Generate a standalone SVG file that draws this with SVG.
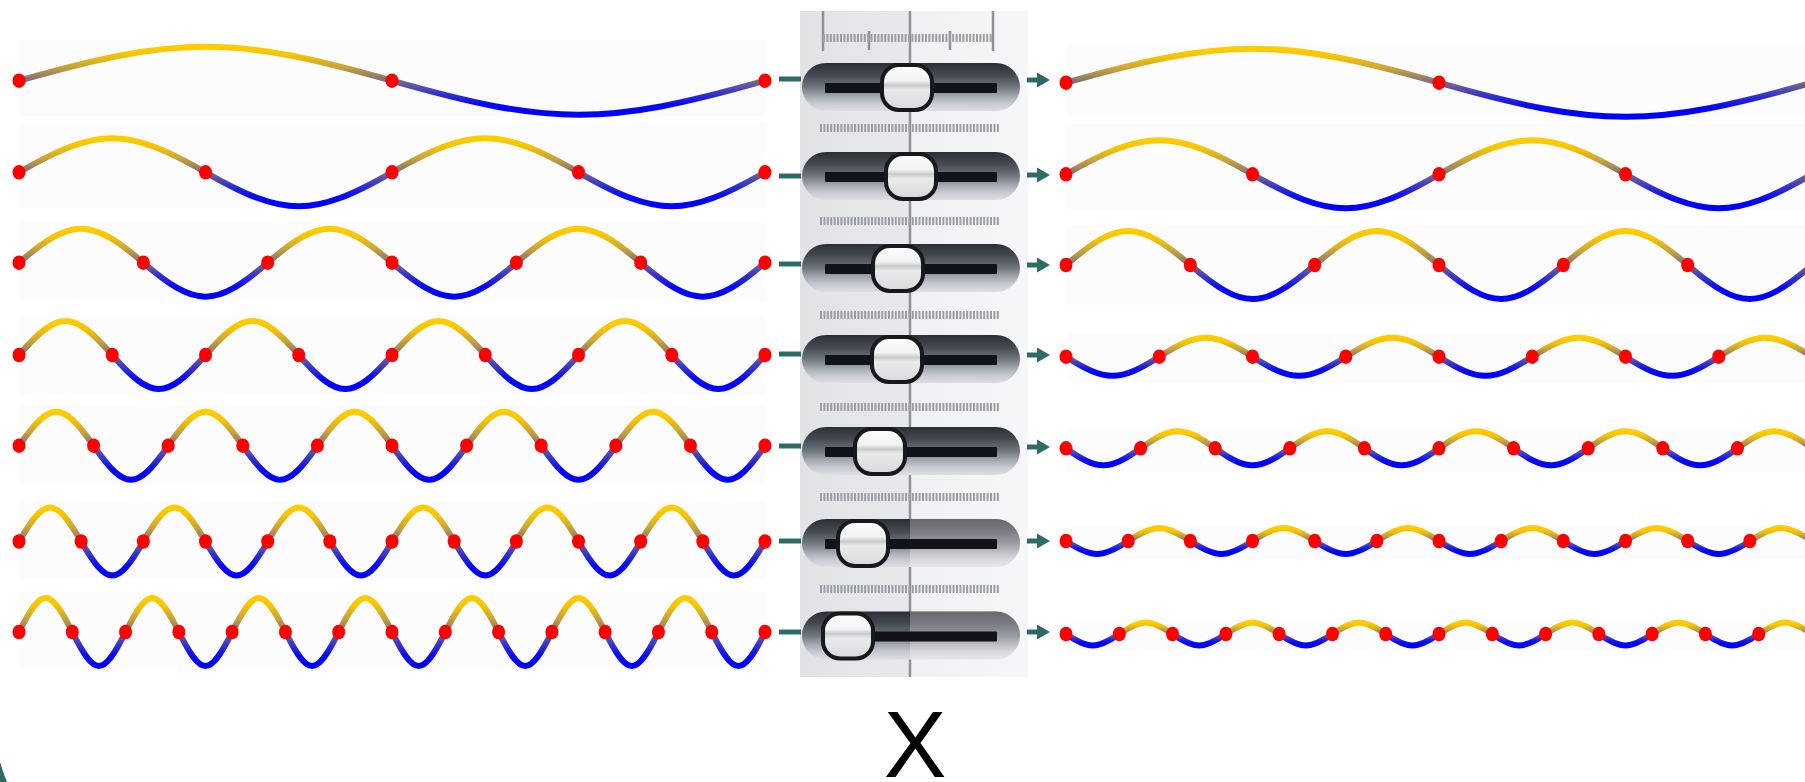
<svg xmlns="http://www.w3.org/2000/svg" width="1805" height="782" viewBox="0 0 1805 782">
<style>
.w{fill:none;stroke:url(#wg);stroke-width:6;stroke-linecap:round;stroke-linejoin:round}
.dot{fill:#ff0000}
.bg{fill:#fcfcfc}
.cl{stroke:#2e6a66;stroke-width:5}
.ca{stroke:#2e6a66;stroke-width:5;marker-end:url(#ah)}
.trk{fill:url(#tg)}
.lite{fill:#ffffff;opacity:0.28}
.grv{fill:#101317}
.knob{fill:url(#kg);stroke:#16191d;stroke-width:4}
.strip{stroke:#9a9fa6;stroke-width:8;stroke-dasharray:2 1.4}
.rl{stroke:#8e939a;stroke-width:2.5}
</style>
<defs>
<linearGradient id="wg" x1="0" y1="0" x2="0" y2="1">
<stop offset="0" stop-color="#ffcc00"/>
<stop offset="0.12" stop-color="#f6c400"/>
<stop offset="0.3" stop-color="#c8a238"/>
<stop offset="0.45" stop-color="#8e7a6a"/>
<stop offset="0.5" stop-color="#7a6a80"/>
<stop offset="0.56" stop-color="#6258a0"/>
<stop offset="0.7" stop-color="#3030d0"/>
<stop offset="0.85" stop-color="#0808f8"/>
<stop offset="1" stop-color="#0000ff"/>
</linearGradient>
<linearGradient id="sbg" x1="0" y1="0" x2="1" y2="0">
<stop offset="0" stop-color="#e0e2e6"/>
<stop offset="0.48" stop-color="#e7e9ec"/>
<stop offset="0.485" stop-color="#eff0f2"/>
<stop offset="1" stop-color="#f6f7f8"/>
</linearGradient>
<linearGradient id="tg" x1="0" y1="0" x2="0" y2="1">
<stop offset="0" stop-color="#2b2f36"/>
<stop offset="0.25" stop-color="#454a51"/>
<stop offset="0.5" stop-color="#70767e"/>
<stop offset="0.7" stop-color="#a6abb2"/>
<stop offset="0.85" stop-color="#c8ccd2"/>
<stop offset="1" stop-color="#dcdfe3"/>
</linearGradient>
<linearGradient id="kg" x1="0" y1="0" x2="0" y2="1">
<stop offset="0" stop-color="#ffffff"/>
<stop offset="0.35" stop-color="#f2f2f3"/>
<stop offset="0.45" stop-color="#c5c9ce"/>
<stop offset="0.55" stop-color="#e9eaec"/>
<stop offset="1" stop-color="#d6d9dd"/>
</linearGradient>
<marker id="ah" markerUnits="userSpaceOnUse" markerWidth="14" markerHeight="16" refX="1" refY="8" orient="auto">
<path d="M0,0.5 L13,8 L0,15.5 Z" fill="#2e6a66"/>
</marker>
<path id="w1" class="w" d="M0,0c158.3,-45.33 214.7,-45.33 373,0s214.7,45.33 373,0"/>
<path id="w2" class="w" d="M0,0c79.15,-45.33 107.35,-45.33 186.5,0s107.35,45.33 186.5,0s107.35,-45.33 186.5,0s107.35,45.33 186.5,0"/>
<path id="w3" class="w" d="M0,0c52.77,-45.33 71.56,-45.33 124.33,0s71.56,45.33 124.33,0s71.56,-45.33 124.33,0s71.56,45.33 124.33,0s71.56,-45.33 124.33,0s71.56,45.33 124.33,0"/>
<path id="w4" class="w" d="M0,0c39.58,-45.33 53.67,-45.33 93.25,0s53.67,45.33 93.25,0s53.67,-45.33 93.25,0s53.67,45.33 93.25,0s53.67,-45.33 93.25,0s53.67,45.33 93.25,0s53.67,-45.33 93.25,0s53.67,45.33 93.25,0"/>
<path id="w5" class="w" d="M0,0c31.66,-45.33 42.94,-45.33 74.6,0s42.94,45.33 74.6,0s42.94,-45.33 74.6,0s42.94,45.33 74.6,0s42.94,-45.33 74.6,0s42.94,45.33 74.6,0s42.94,-45.33 74.6,0s42.94,45.33 74.6,0s42.94,-45.33 74.6,0s42.94,45.33 74.6,0"/>
<path id="w6" class="w" d="M0,0c26.38,-45.33 35.79,-45.33 62.17,0s35.79,45.33 62.17,0s35.79,-45.33 62.17,0s35.79,45.33 62.17,0s35.79,-45.33 62.17,0s35.79,45.33 62.17,0s35.79,-45.33 62.17,0s35.79,45.33 62.17,0s35.79,-45.33 62.17,0s35.79,45.33 62.17,0s35.79,-45.33 62.17,0s35.79,45.33 62.17,0"/>
<path id="w7" class="w" d="M0,0c22.62,-45.33 30.67,-45.33 53.29,0s30.67,45.33 53.29,0s30.67,-45.33 53.29,0s30.67,45.33 53.29,0s30.67,-45.33 53.29,0s30.67,45.33 53.29,0s30.67,-45.33 53.29,0s30.67,45.33 53.29,0s30.67,-45.33 53.29,0s30.67,45.33 53.29,0s30.67,-45.33 53.29,0s30.67,45.33 53.29,0s30.67,-45.33 53.29,0s30.67,45.33 53.29,0"/>
<path id="r4" class="w" d="M0,0c39.58,25.33 53.67,25.33 93.25,0s53.67,-25.33 93.25,0s53.67,25.33 93.25,0s53.67,-25.33 93.25,0s53.67,25.33 93.25,0s53.67,-25.33 93.25,0s53.67,25.33 93.25,0s53.67,-25.33 93.25,0"/>
<path id="r5" class="w" d="M0,0c31.66,22.67 42.94,22.67 74.6,0s42.94,-22.67 74.6,0s42.94,22.67 74.6,0s42.94,-22.67 74.6,0s42.94,22.67 74.6,0s42.94,-22.67 74.6,0s42.94,22.67 74.6,0s42.94,-22.67 74.6,0s42.94,22.67 74.6,0s42.94,-22.67 74.6,0"/>
<path id="r6" class="w" d="M0,0c26.38,17.33 35.79,17.33 62.17,0s35.79,-17.33 62.17,0s35.79,17.33 62.17,0s35.79,-17.33 62.17,0s35.79,17.33 62.17,0s35.79,-17.33 62.17,0s35.79,17.33 62.17,0s35.79,-17.33 62.17,0s35.79,17.33 62.17,0s35.79,-17.33 62.17,0s35.79,17.33 62.17,0s35.79,-17.33 62.17,0"/>
<path id="r7" class="w" d="M0,0c22.62,15.33 30.67,15.33 53.29,0s30.67,-15.33 53.29,0s30.67,15.33 53.29,0s30.67,-15.33 53.29,0s30.67,15.33 53.29,0s30.67,-15.33 53.29,0s30.67,15.33 53.29,0s30.67,-15.33 53.29,0s30.67,15.33 53.29,0s30.67,-15.33 53.29,0s30.67,15.33 53.29,0s30.67,-15.33 53.29,0s30.67,15.33 53.29,0s30.67,-15.33 53.29,0"/>
<g id="d1" class="dot"><ellipse cx="0" cy="0" rx="6.5" ry="7.3"/><ellipse cx="373" cy="0" rx="6.5" ry="7.3"/><ellipse cx="746" cy="0" rx="6.5" ry="7.3"/></g>
<g id="d2" class="dot"><ellipse cx="0" cy="0" rx="6.5" ry="7.3"/><ellipse cx="186.5" cy="0" rx="6.5" ry="7.3"/><ellipse cx="373" cy="0" rx="6.5" ry="7.3"/><ellipse cx="559.5" cy="0" rx="6.5" ry="7.3"/><ellipse cx="746" cy="0" rx="6.5" ry="7.3"/></g>
<g id="d3" class="dot"><ellipse cx="0" cy="0" rx="6.5" ry="7.3"/><ellipse cx="124.33" cy="0" rx="6.5" ry="7.3"/><ellipse cx="248.67" cy="0" rx="6.5" ry="7.3"/><ellipse cx="373" cy="0" rx="6.5" ry="7.3"/><ellipse cx="497.33" cy="0" rx="6.5" ry="7.3"/><ellipse cx="621.67" cy="0" rx="6.5" ry="7.3"/><ellipse cx="746" cy="0" rx="6.5" ry="7.3"/></g>
<g id="d4" class="dot"><ellipse cx="0" cy="0" rx="6.5" ry="7.3"/><ellipse cx="93.25" cy="0" rx="6.5" ry="7.3"/><ellipse cx="186.5" cy="0" rx="6.5" ry="7.3"/><ellipse cx="279.75" cy="0" rx="6.5" ry="7.3"/><ellipse cx="373" cy="0" rx="6.5" ry="7.3"/><ellipse cx="466.25" cy="0" rx="6.5" ry="7.3"/><ellipse cx="559.5" cy="0" rx="6.5" ry="7.3"/><ellipse cx="652.75" cy="0" rx="6.5" ry="7.3"/><ellipse cx="746" cy="0" rx="6.5" ry="7.3"/></g>
<g id="d5" class="dot"><ellipse cx="0" cy="0" rx="6.5" ry="7.3"/><ellipse cx="74.6" cy="0" rx="6.5" ry="7.3"/><ellipse cx="149.2" cy="0" rx="6.5" ry="7.3"/><ellipse cx="223.8" cy="0" rx="6.5" ry="7.3"/><ellipse cx="298.4" cy="0" rx="6.5" ry="7.3"/><ellipse cx="373" cy="0" rx="6.5" ry="7.3"/><ellipse cx="447.6" cy="0" rx="6.5" ry="7.3"/><ellipse cx="522.2" cy="0" rx="6.5" ry="7.3"/><ellipse cx="596.8" cy="0" rx="6.5" ry="7.3"/><ellipse cx="671.4" cy="0" rx="6.5" ry="7.3"/><ellipse cx="746" cy="0" rx="6.5" ry="7.3"/></g>
<g id="d6" class="dot"><ellipse cx="0" cy="0" rx="6.5" ry="7.3"/><ellipse cx="62.17" cy="0" rx="6.5" ry="7.3"/><ellipse cx="124.33" cy="0" rx="6.5" ry="7.3"/><ellipse cx="186.5" cy="0" rx="6.5" ry="7.3"/><ellipse cx="248.67" cy="0" rx="6.5" ry="7.3"/><ellipse cx="310.83" cy="0" rx="6.5" ry="7.3"/><ellipse cx="373" cy="0" rx="6.5" ry="7.3"/><ellipse cx="435.17" cy="0" rx="6.5" ry="7.3"/><ellipse cx="497.33" cy="0" rx="6.5" ry="7.3"/><ellipse cx="559.5" cy="0" rx="6.5" ry="7.3"/><ellipse cx="621.67" cy="0" rx="6.5" ry="7.3"/><ellipse cx="683.83" cy="0" rx="6.5" ry="7.3"/><ellipse cx="746" cy="0" rx="6.5" ry="7.3"/></g>
<g id="d7" class="dot"><ellipse cx="0" cy="0" rx="6.5" ry="7.3"/><ellipse cx="53.29" cy="0" rx="6.5" ry="7.3"/><ellipse cx="106.57" cy="0" rx="6.5" ry="7.3"/><ellipse cx="159.86" cy="0" rx="6.5" ry="7.3"/><ellipse cx="213.14" cy="0" rx="6.5" ry="7.3"/><ellipse cx="266.43" cy="0" rx="6.5" ry="7.3"/><ellipse cx="319.71" cy="0" rx="6.5" ry="7.3"/><ellipse cx="373" cy="0" rx="6.5" ry="7.3"/><ellipse cx="426.29" cy="0" rx="6.5" ry="7.3"/><ellipse cx="479.57" cy="0" rx="6.5" ry="7.3"/><ellipse cx="532.86" cy="0" rx="6.5" ry="7.3"/><ellipse cx="586.14" cy="0" rx="6.5" ry="7.3"/><ellipse cx="639.43" cy="0" rx="6.5" ry="7.3"/><ellipse cx="692.71" cy="0" rx="6.5" ry="7.3"/><ellipse cx="746" cy="0" rx="6.5" ry="7.3"/></g>
</defs>
<rect width="1805" height="782" fill="#ffffff"/>

<!-- left waves -->
<g id="wave-left-1"><rect class="bg" x="20" y="40" width="746" height="76"/><use href="#w1" x="19" y="80.7"/><use href="#d1" x="19" y="80.7"/></g>
<g id="wave-left-2"><rect class="bg" x="20" y="122" width="746" height="86"/><use href="#w2" x="19" y="172.3"/><use href="#d2" x="19" y="172.3"/></g>
<g id="wave-left-3"><rect class="bg" x="20" y="222" width="746" height="80"/><use href="#w3" x="19" y="262.7"/><use href="#d3" x="19" y="262.7"/></g>
<g id="wave-left-4"><rect class="bg" x="20" y="315" width="746" height="80"/><use href="#w4" x="19" y="355"/><use href="#d4" x="19" y="355"/></g>
<g id="wave-left-5"><rect class="bg" x="20" y="405" width="746" height="80"/><use href="#w5" x="19" y="445.7"/><use href="#d5" x="19" y="445.7"/></g>
<g id="wave-left-6"><rect class="bg" x="20" y="501" width="746" height="78"/><use href="#w6" x="19" y="541.5"/><use href="#d6" x="19" y="541.5"/></g>
<g id="wave-left-7"><rect class="bg" x="20" y="592" width="746" height="78"/><use href="#w7" x="19" y="632"/><use href="#d7" x="19" y="632"/></g>

<!-- slider column -->
<g id="slider-panel">
<rect x="800" y="11" width="228" height="666" fill="url(#sbg)"/>
<line class="rl" x1="910" y1="11" x2="910" y2="677"/>
<line class="rl" x1="823" y1="11" x2="823" y2="51"/>
<line class="rl" x1="993" y1="11" x2="993" y2="51"/>
<line class="rl" x1="869" y1="31" x2="869" y2="50" stroke-width="2"/>
<line class="rl" x1="950" y1="31" x2="950" y2="50" stroke-width="2"/>
<line class="strip" x1="823" y1="38" x2="993" y2="38" stroke-width="7"/>
<line class="strip" x1="820" y1="128" x2="999" y2="128"/>
<line class="strip" x1="820" y1="221" x2="999" y2="221"/>
<line class="strip" x1="820" y1="315" x2="999" y2="315"/>
<line class="strip" x1="820" y1="407" x2="999" y2="407"/>
<line class="strip" x1="820" y1="497" x2="999" y2="497"/>
<line class="strip" x1="820" y1="589" x2="999" y2="589"/>
</g>
<g id="slider-1"><rect class="trk" x="802" y="63" width="218" height="48" rx="24"/><rect class="grv" x="825" y="83" width="172" height="10" rx="1"/><rect class="knob" x="882" y="65" width="50" height="45" rx="17"/></g>
<g id="slider-2"><rect class="trk" x="802" y="152" width="218" height="48" rx="24"/><rect class="grv" x="825" y="172" width="172" height="10" rx="1"/><rect class="knob" x="886" y="154" width="50" height="45" rx="17"/></g>
<g id="slider-3"><rect class="trk" x="802" y="244" width="218" height="48" rx="24"/><rect class="grv" x="825" y="264" width="172" height="10" rx="1"/><rect class="knob" x="873" y="246" width="50" height="45" rx="17"/></g>
<g id="slider-4"><rect class="trk" x="802" y="335" width="218" height="48" rx="24"/><rect class="grv" x="825" y="355" width="172" height="10" rx="1"/><rect class="knob" x="872" y="337" width="50" height="45" rx="17"/></g>
<g id="slider-5"><rect class="trk" x="802" y="427" width="218" height="48" rx="24"/><rect class="grv" x="825" y="447" width="172" height="10" rx="1"/><rect class="knob" x="855" y="429" width="50" height="45" rx="17"/></g>
<g id="slider-6"><rect class="trk" x="802" y="519" width="218" height="48" rx="24"/><path class="lite" d="M910,519H996A24,24 0 0 1 996,567H910Z"/><rect class="grv" x="825" y="539" width="172" height="10" rx="1"/><rect class="knob" x="838" y="521" width="50" height="45" rx="17"/></g>
<g id="slider-7"><rect class="trk" x="802" y="611.5" width="218" height="48" rx="24"/><path class="lite" d="M910,611.5H996A24,24 0 0 1 996,659.5H910Z"/><rect class="grv" x="825" y="631.5" width="172" height="10" rx="1"/><rect class="knob" x="823" y="613.5" width="50" height="45" rx="17"/></g>

<!-- right waves -->
<g id="wave-right-1"><rect class="bg" x="1067" y="42" width="738" height="76"/><use href="#w1" x="1066" y="82.7"/><use href="#d1" x="1066" y="82.7"/></g>
<g id="wave-right-2"><rect class="bg" x="1067" y="124" width="738" height="86"/><use href="#w2" x="1066" y="174.3"/><use href="#d2" x="1066" y="174.3"/></g>
<g id="wave-right-3"><rect class="bg" x="1067" y="225" width="738" height="80"/><use href="#w3" x="1066" y="265"/><use href="#d3" x="1066" y="265"/></g>
<g id="wave-right-4"><rect class="bg" x="1067" y="333" width="738" height="50"/><use href="#r4" x="1066" y="356.7"/><use href="#d4" x="1066" y="356.7"/></g>
<g id="wave-right-5"><rect class="bg" x="1067" y="426" width="738" height="46"/><use href="#r5" x="1066" y="448.3"/><use href="#d5" x="1066" y="448.3"/></g>
<g id="wave-right-6"><rect class="bg" x="1067" y="526" width="738" height="33"/><use href="#r6" x="1066" y="541"/><use href="#d6" x="1066" y="541"/></g>
<g id="wave-right-7"><rect class="bg" x="1067" y="618" width="738" height="33"/><use href="#r7" x="1066" y="634"/><use href="#d7" x="1066" y="634"/></g>

<!-- connectors -->
<g id="connectors">
<line class="cl" x1="779" y1="79" x2="801" y2="79"/>
<line class="cl" x1="779" y1="176" x2="801" y2="176"/>
<line class="cl" x1="779" y1="264" x2="801" y2="264"/>
<line class="cl" x1="779" y1="354" x2="801" y2="354"/>
<line class="cl" x1="779" y1="446" x2="801" y2="446"/>
<line class="cl" x1="779" y1="541" x2="801" y2="541"/>
<line class="cl" x1="779" y1="632" x2="801" y2="632"/>
<line class="ca" x1="1027" y1="80" x2="1038" y2="80"/>
<line class="ca" x1="1027" y1="175" x2="1038" y2="175"/>
<line class="ca" x1="1027" y1="265" x2="1038" y2="265"/>
<line class="ca" x1="1027" y1="355" x2="1038" y2="355"/>
<line class="ca" x1="1027" y1="447" x2="1038" y2="447"/>
<line class="ca" x1="1027" y1="541" x2="1038" y2="541"/>
<line class="ca" x1="1027" y1="632" x2="1038" y2="632"/>
</g>

<text x="915" y="777" font-family="'Liberation Sans', Arial, sans-serif" font-size="94" text-anchor="middle" fill="#000000">X</text>
<path d="M0,762 C2,768 4,775 7,782 L0,782 Z" fill="#2e6a66"/>
</svg>
